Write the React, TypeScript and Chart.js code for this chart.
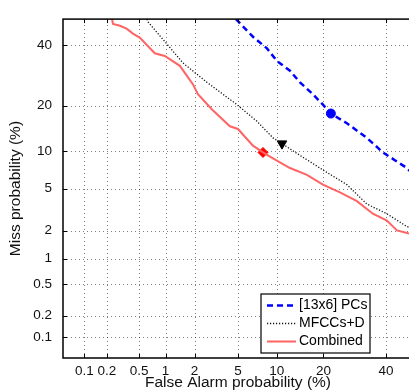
import React, { useEffect, useRef } from 'react';
import { Chart, registerables } from 'chart.js';
Chart.register(...registerables);

// ---- data (percent values) ----
const tickPercents = [0.1, 0.2, 0.5, 1, 2, 5, 10, 20, 40];
const tickLabels = ['0.1', '0.2', '0.5', '1', '2', '5', '10', '20', '40'];
const axisMinPct = 0.05;
const axisMaxPct = 50;

const seriesNames = ['[13x6] PCs', 'MFCCs+D', 'Combined'];

const pcsFA = [4.8, 4.99, 6.62, 8.49, 10.04, 12.37, 14.4, 17.3, 19.86, 22.0, 26.7, 33.2, 38.9, 47.7, 50];
const pcsMiss = [50, 49.2, 43.2, 38.8, 34.2, 30.8, 26.95, 23.3, 20.3, 17.96, 15.6, 12.44, 9.77, 7.41, 6.6];

const mfccFA = [0.62, 0.636, 0.98, 1.53, 2.64, 4.9, 7.12, 9.4, 10.9, 14.4, 19.86, 26.7, 33.2, 40.3, 47.7, 50];
const mfccMiss = [50, 48.9, 41.4, 33.5, 26.95, 20.3, 16.05, 12.44, 11.33, 9.29, 7.15, 5.4, 3.63, 2.94, 2.2, 2.1];

const combFA = [0.233, 0.24, 0.294, 0.358, 0.423, 0.51, 0.76, 0.98, 1.42, 1.93, 2.16, 2.94, 4.26, 4.99, 6.62, 7.92, 9.4, 12.37, 15.94, 19.86, 24.6, 29.9, 35.3, 40.3, 44.0, 48.1, 50];
const combMiss = [50, 48.1, 47.4, 46.2, 44.4, 42.9, 37.0, 36.0, 32.5, 26.3, 23.3, 19.0, 14.9, 14.3, 10.95, 9.77, 8.83, 7.41, 6.52, 5.4, 4.62, 3.86, 2.94, 2.52, 2.01, 1.88, 1.85];

// operating-point markers [FA%, Miss%]
const pcsMarker = [22.0, 17.96];
const mfccMarker = [10.9, 11.33];
const combMarker = [7.92, 9.77];

// ---- inverse normal CDF (probit) for DET axes ----
function probit(p: number): number {
  const a = [-3.969683028665376e1, 2.209460984245205e2, -2.759285104469687e2, 1.38357751867269e2, -3.066479806614716e1, 2.506628277459239];
  const b = [-5.447609879822406e1, 1.615858368580409e2, -1.556989798598866e2, 6.680131188771972e1, -1.328068155288572e1];
  const c = [-7.784894002430293e-3, -3.223964580411365e-1, -2.400758277161838, -2.549732539343734, 4.374664141464968, 2.938163982698783];
  const d = [7.784695709041462e-3, 3.224671290700398e-1, 2.445134137142996, 3.754408661907416];
  const plow = 0.02425;
  if (p < plow) {
    const q = Math.sqrt(-2 * Math.log(p));
    return (((((c[0] * q + c[1]) * q + c[2]) * q + c[3]) * q + c[4]) * q + c[5]) / ((((d[0] * q + d[1]) * q + d[2]) * q + d[3]) * q + 1);
  }
  if (p <= 1 - plow) {
    const q = p - 0.5;
    const r = q * q;
    return ((((((a[0] * r + a[1]) * r + a[2]) * r + a[3]) * r + a[4]) * r + a[5]) * q) / (((((b[0] * r + b[1]) * r + b[2]) * r + b[3]) * r + b[4]) * r + 1);
  }
  const q = Math.sqrt(-2 * Math.log(1 - p));
  return -(((((c[0] * q + c[1]) * q + c[2]) * q + c[3]) * q + c[4]) * q + c[5]) / ((((d[0] * q + d[1]) * q + d[2]) * q + d[3]) * q + 1);
}

const toPts = (fa: number[], miss: number[]) => fa.map((f, i) => ({ x: probit(f / 100), y: probit(miss[i] / 100) }));

const FONT = '"Liberation Sans", Arial, Helvetica, sans-serif';

const framePlugin = {
  id: 'detFrame',
  beforeDatasetsDraw(chart: any) {
    const { ctx, chartArea, scales } = chart;
    const { left, right, top, bottom } = chartArea;
    ctx.save();
    ctx.strokeStyle = 'rgba(0,0,0,0.5)';
    ctx.lineWidth = 1;
    ctx.setLineDash([1, 3]);
    ctx.beginPath();
    scales.x.ticks.forEach((t: any) => {
      const px = Math.round(scales.x.getPixelForValue(t.value)) + 0.5;
      ctx.moveTo(px, bottom);
      ctx.lineTo(px, top);
    });
    scales.y.ticks.forEach((t: any) => {
      const py = Math.round(scales.y.getPixelForValue(t.value)) + 0.5;
      ctx.moveTo(left, py);
      ctx.lineTo(right, py);
    });
    ctx.stroke();
    ctx.restore();
  },
  afterDatasetsDraw(chart: any) {
    const { ctx, chartArea, scales } = chart;
    const { left, right, top, bottom } = chartArea;
    ctx.save();
    ctx.setLineDash([]);
    ctx.strokeStyle = '#000';
    ctx.lineWidth = 1;
    ctx.beginPath();
    scales.x.ticks.forEach((t: any) => {
      const px = Math.round(scales.x.getPixelForValue(t.value)) + 0.5;
      ctx.moveTo(px, bottom);
      ctx.lineTo(px, bottom - 4);
      ctx.moveTo(px, top);
      ctx.lineTo(px, top + 4);
    });
    scales.y.ticks.forEach((t: any) => {
      const py = Math.round(scales.y.getPixelForValue(t.value)) + 0.5;
      ctx.moveTo(left, py);
      ctx.lineTo(left + 4, py);
      ctx.moveTo(right, py);
      ctx.lineTo(right - 4, py);
    });
    ctx.stroke();
    ctx.lineWidth = 1.5;
    ctx.strokeRect(left, top, right - left, bottom - top);
    ctx.restore();
  },
  afterDraw(chart: any) {
    const { ctx } = chart;
    const bx = 261, by = 294, bw = 109, bh = 59;
    ctx.save();
    ctx.fillStyle = '#fff';
    ctx.fillRect(bx, by, bw, bh);
    ctx.strokeStyle = '#000';
    ctx.lineWidth = 1.2;
    ctx.setLineDash([]);
    ctx.strokeRect(bx, by, bw, bh);
    const rows = [305.5, 323.5, 341.5];
    ctx.font = `14px ${FONT}`;
    ctx.textBaseline = 'middle';
    ctx.textAlign = 'left';
    for (let i = 0; i < 3; i++) {
      const ds = chart.data.datasets[i];
      ctx.beginPath();
      ctx.strokeStyle = ds.borderColor;
      ctx.lineWidth = ds.borderWidth;
      ctx.setLineDash(ds.borderDash || []);
      ctx.moveTo(267, rows[i]);
      ctx.lineTo(296, rows[i]);
      ctx.stroke();
      ctx.setLineDash([]);
      ctx.fillStyle = '#000';
      ctx.fillText(ds.label, 299, rows[i]);
    }
    ctx.restore();
  },
};

export default function App() {
  const ref = useRef<HTMLCanvasElement>(null);
  useEffect(() => {
    const xMin = probit(axisMinPct / 100);
    const xMax = probit(axisMaxPct / 100);
    const setTicks = (scale: any) => {
      scale.ticks = tickPercents.map((p) => ({ value: probit(p / 100) }));
    };
    const chart = new Chart(ref.current as HTMLCanvasElement, {
      type: 'scatter',
      data: {
        datasets: [
          {
            label: seriesNames[0],
            data: toPts(pcsFA, pcsMiss),
            showLine: true,
            borderColor: '#0000ff',
            borderWidth: 2.5,
            borderDash: [6, 4],
            pointRadius: 0,
            tension: 0,
          },
          {
            label: seriesNames[1],
            data: toPts(mfccFA, mfccMiss),
            showLine: true,
            borderColor: '#111111',
            borderWidth: 1.3,
            borderDash: [1.2, 1.8],
            pointRadius: 0,
            tension: 0,
          },
          {
            label: seriesNames[2],
            data: toPts(combFA, combMiss),
            showLine: true,
            borderColor: '#ff6464',
            borderWidth: 2,
            pointRadius: 0,
            tension: 0,
          },
          {
            label: 'pcs-point',
            data: toPts([pcsMarker[0]], [pcsMarker[1]]),
            pointStyle: 'circle',
            pointRadius: 4.5,
            backgroundColor: '#0000ff',
            borderColor: '#0000ff',
          },
          {
            label: 'mfcc-point',
            data: toPts([mfccMarker[0]], [mfccMarker[1]]),
            pointStyle: 'triangle',
            rotation: 180,
            pointRadius: 5.5,
            backgroundColor: '#000',
            borderColor: '#000',
          },
          {
            label: 'comb-point',
            data: toPts([combMarker[0]], [combMarker[1]]),
            pointStyle: 'rectRot',
            pointRadius: 5,
            backgroundColor: '#ff0000',
            borderColor: '#ff0000',
          },
        ],
      },
      options: {
        responsive: false,
        animation: false,
        devicePixelRatio: 1,
        layout: { padding: { left: 0, top: 10, right: 7, bottom: 0 } },
        plugins: { legend: { display: false }, tooltip: { enabled: false } },
        scales: {
          x: {
            type: 'linear',
            min: xMin,
            max: xMax,
            afterBuildTicks: setTicks,
            afterFit: (s: any) => {
              s.height = 34;
            },
            grid: { display: false, drawTicks: false },
            border: { display: false },
            ticks: {
              autoSkip: false,
              maxRotation: 0,
              padding: 5,
              color: '#111',
              font: { family: FONT, size: 13.5 },
              callback: (_v: any, i: number) => tickLabels[i],
            },
            title: {
              display: true,
              text: 'False Alarm probability (%)',
              color: '#111',
              font: { family: FONT, size: 15.5 },
              padding: { top: 0, bottom: 0 },
            },
          },
          y: {
            type: 'linear',
            min: xMin,
            max: xMax,
            afterBuildTicks: setTicks,
            afterFit: (s: any) => {
              s.width = 63;
            },
            grid: { display: false, drawTicks: false },
            border: { display: false },
            ticks: {
              autoSkip: false,
              padding: 11,
              color: '#111',
              font: { family: FONT, size: 13.5 },
              callback: (_v: any, i: number) => tickLabels[i],
            },
            title: {
              display: true,
              text: 'Miss probability (%)',
              color: '#111',
              font: { family: FONT, size: 15.5 },
              padding: { top: 6, bottom: 0 },
            },
          },
        },
      } as any,
      plugins: [framePlugin],
    } as any);
    return () => chart.destroy();
  }, []);
  return (
    <div style={{ position: 'fixed', left: 0, top: 0, width: 409, height: 392, overflow: 'hidden', background: '#fff' }}>
      <canvas ref={ref} width={420} height={392} style={{ display: 'block', width: 420, height: 392 }} />
    </div>
  );
}
